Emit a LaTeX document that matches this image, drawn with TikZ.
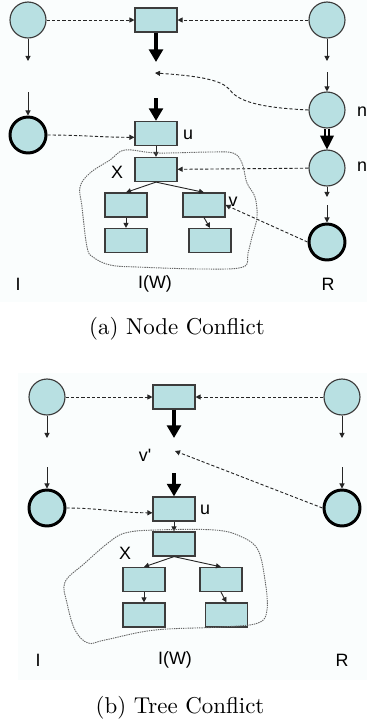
\documentclass[tikz,border=0pt]{standalone}
\usepackage{fontspec}
\newfontfamily\lblfont{Liberation Sans}
\usetikzlibrary{arrows.meta}

\definecolor{nodefill}{RGB}{184,224,226}
\definecolor{panelbg}{RGB}{250,253,253}
\definecolor{edgegray}{RGB}{60,60,60}

\tikzset{
  vert/.style={circle, draw=edgegray, line width=0.5pt, fill=nodefill, minimum size=15.7pt, inner sep=0pt},
  vertthick/.style={vert, draw=black, line width=1.3pt},
  box/.style={rectangle, draw=edgegray, line width=0.5pt, fill=nodefill, minimum width=18.3pt, minimum height=10.5pt, inner sep=0pt},
  lbl/.style={font=\lblfont\fontsize{7.8}{9}\selectfont, inner sep=0pt},
  edge/.style={line width=0.4pt, black!85, -{Triangle[length=2.2pt,width=2.2pt]}},
  link/.style={edge, dash pattern=on 1.4pt off 0.9pt},
  bigedge/.style={line width=1.7pt, -{Triangle[length=5.5pt,width=6pt]}},
  dbledge/.style={line width=0.5pt, double, double distance=1.3pt, -{Triangle[length=6pt,width=6pt]}},
  cloud/.style={line width=0.4pt, black!60, dash pattern=on 0.6pt off 0.4pt},
}

\begin{document}
\begin{tikzpicture}[x=0.4365pt, y=-0.4365pt]
\useasboundingbox (0,0) rectangle (367,719);

% фон панелей
\fill[panelbg] (0,0) rectangle (367,302);
\fill[panelbg] (18,373) rectangle (367,680);

% Панель (a)
\node[vert] (aL1) at (28,20) {};
\node[box] (aT) at (156,20) {};
\node[vert] (aR1) at (327,20) {};
\coordinate (aL1e) at (28,61);
\coordinate (aTe) at (156,62);
\coordinate (aR1e) at (327,61);
\coordinate (aHole) at (155,73);

\coordinate (aL2s) at (28,92);
\coordinate (aUs) at (156,98);
\coordinate (aR2s) at (327,72);
\node[vertthick] (aL2) at (28,135) {};
\node[box] (aU) at (156,133.5) {};
\node[vert] (aN1) at (327,110) {};
\node[vert] (aN2) at (327,168) {};
\node[lbl] (aUl) at (188,135) {u};
\node[lbl] (aN1l) at (362,112) {n};
\node[lbl] (aN2l) at (362,167) {n};

\node[box] (aX) at (156,169.5) {};
\node[lbl] (aXl) at (117,172) {X};
\node[box] (aCl) at (126,205) {};
\node[box] (aCr) at (204,205) {};
\node[box] (aGl) at (126,240.5) {};
\node[box] (aGr) at (210,240.5) {};
\node[lbl] (aVl) at (233,202) {v};

\coordinate (aN2e) at (327,197);
\coordinate (aR3s) at (327,205);
\node[vertthick] (aR3) at (327,242) {};

\draw[link] (aL1) -- (aT);
\draw[link] (aR1) -- (aT);
\draw[edge] (aL1) -- (aL1e);
\draw[edge] (aR1) -- (aR1e);
\draw[bigedge] (aT) -- (aTe);
\draw[link] (aN1.west) .. controls (270,108) and (240,104) .. (230,90)
  .. controls (222,80) and (200,76) .. (aHole);
\draw[edge] (aL2s) -- (aL2);
\draw[bigedge] (aUs) -- (aU);
\draw[edge] (aR2s) -- (aN1);
\draw[link] (aL2.east) to[out=0, in=180] (aU.190);
\draw[dbledge] (aN1) -- (aN2);
\draw[edge] (aU) -- (aX);
\draw[link] (aN2) -- (aX);
\draw[edge] (aX.south) -- (aCl.north);
\draw[edge] (aX.south) -- (aCr.north);
\draw[edge] (aCl) -- (aGl);
\draw[edge] (aCr.south) -- (aGr.north);
\draw[link] (aR3.west) -- (aCr.east);
\draw[edge] (aN2) -- (aN2e);
\draw[edge] (aR3s) -- (aR3);

\draw[cloud] plot[smooth cycle, tension=0.6] coordinates {
  (125,150) (157,153) (210,152) (233,153) (242,163) (247,183) (255,197)
  (257,217) (252,237) (248,253) (243,267) (203,269) (137,267) (110,265)
  (93,257) (87,247) (82,207) (80,187) (90,173) (110,160)};

\node[lbl] (aI) at (18,284) {I};
\node[lbl] (aIW) at (155,284) {I(W)};
\node[lbl] (aR) at (328,284) {R};
\node (capa) at (177,329) {(a)~Node Conflict};

% Панель (b)
\node[vert] (bL1) at (47,397) {};
\node[box] (bT) at (174,397) {};
\node[vert] (bR1) at (342,397) {};
\coordinate (bL1e) at (47,438);
\coordinate (bTe) at (174,438);
\coordinate (bR1e) at (342,438);
\coordinate (bHole) at (175,451);
\node[lbl] (bVl) at (145,455) {v'};

\coordinate (bL2s) at (47,467);
\coordinate (bUs) at (174,473);
\coordinate (bR2s) at (342,467);
\node[vertthick] (bL2) at (47,508) {};
\node[box] (bU) at (174,509) {};
\node[vertthick] (bR2) at (342,508) {};
\node[lbl] (bUl) at (205,510) {u};

\node[box] (bX) at (174,544) {};
\node[lbl] (bXl) at (125,553) {X};
\node[box] (bCl) at (144,579.5) {};
\node[box] (bCr) at (221,579.5) {};
\node[box] (bGl) at (144,615) {};
\node[box] (bGr) at (226.5,615) {};

\draw[link] (bL1) -- (bT);
\draw[link] (bR1) -- (bT);
\draw[edge] (bL1) -- (bL1e);
\draw[edge] (bR1) -- (bR1e);
\draw[bigedge] (bT) -- (bTe);
\draw[link] (bR2.west) -- (bHole);
\draw[edge] (bL2s) -- (bL2);
\draw[bigedge] (bUs) -- (bU);
\draw[edge] (bR2s) -- (bR2);
\draw[link] (bL2.east) to[out=0, in=180] (bU.190);
\draw[edge] (bU) -- (bX);
\draw[edge] (bX.south) -- (bCl.north);
\draw[edge] (bX.south) -- (bCr.north);
\draw[edge] (bCl) -- (bGl);
\draw[edge] (bCr.south) -- (bGr.north);

\draw[cloud] plot[smooth cycle, tension=0.6] coordinates {
  (125,533) (155,530) (215,530) (242,537) (258,550) (265,580) (267,610)
  (258,623) (222,627) (155,630) (105,640) (88,643) (75,630) (67,603)
  (65,582) (85,563) (108,543)};

\node[lbl] (bI) at (38,660) {I};
\node[lbl] (bIW) at (175,660) {I(W)};
\node[lbl] (bR) at (342,660) {R};
\node (capb) at (180,708) {(b)~Tree Conflict};
\end{tikzpicture}
\end{document}
